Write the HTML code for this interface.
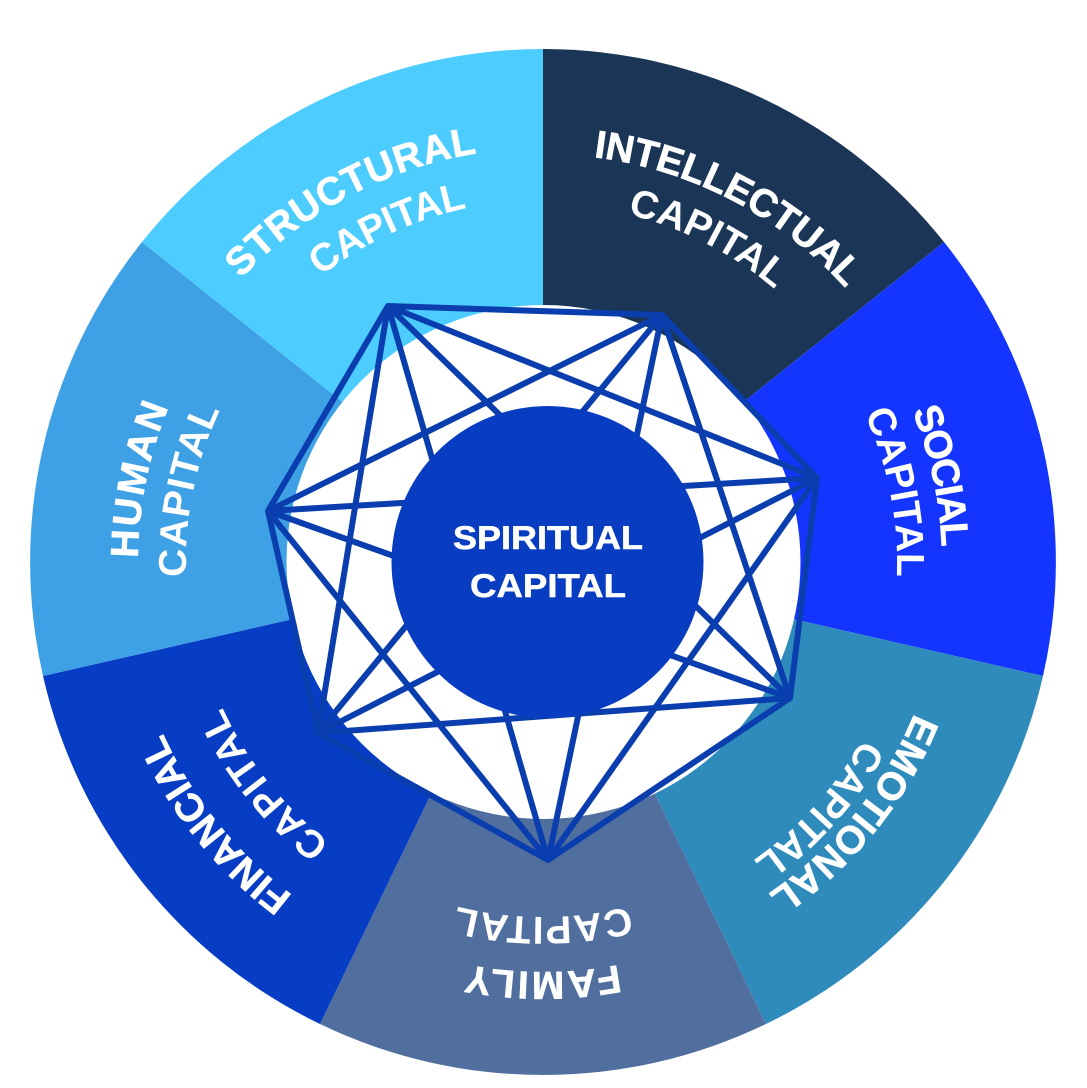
<!DOCTYPE html>
<html><head><meta charset="utf-8"><style>
html,body{margin:0;padding:0;background:#fff}
svg{display:block}
text{font-family:"Liberation Sans",sans-serif;fill:#fff;text-anchor:middle;text-rendering:geometricPrecision}
.a{font-size:39px;font-weight:700;stroke:#fff;stroke-width:.6px}
.b{font-size:39px;font-weight:700}
.c{font-size:33px;font-weight:700;stroke:#fff;stroke-width:.5px}
</style></head><body>
<svg width="1087" height="1088" viewBox="0 0 1087 1088" xmlns="http://www.w3.org/2000/svg">
<defs>
<path id="s1" d="M129 562A414 414 0 0 1 957 562"/>
<path id="s2" d="M181 562A362 362 0 0 1 905 562"/>
<path id="i1" d="M135 562A408 408 0 0 1 951 562"/>
<path id="i2" d="M185 562A358 358 0 0 1 901 562"/>
<path id="o1" d="M144 562A399 399 0 0 1 942 562"/>
<path id="o2" d="M189 562A354 354 0 0 1 897 562"/>
<path id="e1" d="M142 562A401 401 0 0 1 944 562"/>
<path id="e2" d="M178 562A365 365 0 0 1 908 562"/>
<path id="f1" d="M133 562A410 410 0 0 1 953 562"/>
<path id="f2" d="M188 562A355 355 0 0 1 898 562"/>
<path id="n1" d="M126 562A417 417 0 0 1 960 562"/>
<path id="n2" d="M191 562A352 352 0 0 1 895 562"/>
<path id="h1" d="M138 562A405 405 0 0 1 948 562"/>
<path id="h2" d="M186 562A357 357 0 0 1 900 562"/>
</defs>
<path d="M543 562L543 49A513 513 0 0 1 944 242Z" fill="#1b3556"/>
<path d="M543 562L944 242A513 513 0 0 1 1043 676Z" fill="#1435ff"/>
<path d="M543 562L1043 676A513 513 0 0 1 766 1024Z" fill="#2e8bbb"/>
<path d="M543 562L766 1024A513 513 0 0 1 320 1024Z" fill="#516f9e"/>
<path d="M543 562L320 1024A513 513 0 0 1 43 676Z" fill="#073cc4"/>
<path d="M543 562L43 676A513 513 0 0 1 142 242Z" fill="#3ea1e6"/>
<path d="M543 562L142 242A513 513 0 0 1 543 49Z" fill="#4dcdff"/>
<circle cx="543.5" cy="562" r="257" fill="#fff"/>
<g fill="none" stroke="#0a3eae" stroke-width="6" stroke-linejoin="round">
<path d="M388 306L662 315L817 478L790 698L548 860L318 733L268 511Z"/>
<path d="M388 306L817 478M388 306L790 698M388 306L548 860M388 306L318 733"/>
<path d="M662 315L790 698M662 315L548 860M662 315L318 733M662 315L268 511"/>
<path d="M817 478L548 860M817 478L318 733M817 478L268 511"/>
<path d="M790 698L318 733M790 698L268 511"/>
<path d="M548 860L268 511"/>
</g>
<circle cx="547.5" cy="562" r="156" fill="#083dc2"/>
<text class="c" x="548" y="549" textLength="190" lengthAdjust="spacingAndGlyphs">SPIRITUAL</text>
<text class="c" x="548" y="597" textLength="156" lengthAdjust="spacingAndGlyphs">CAPITAL</text>

<text class="a" transform="rotate(332 543 562)"><textPath href="#s1" startOffset="50%" textLength="272">STRUCTURAL</textPath></text>
<text class="b" transform="rotate(335 543 562)"><textPath href="#s2" startOffset="50%" textLength="163">CAPITAL</textPath></text>
<text class="a" transform="rotate(27.5 543 562)"><textPath href="#i1" startOffset="50%" textLength="290">INTELLECTUAL</textPath></text>
<text class="b" transform="rotate(27 543 562)"><textPath href="#i2" startOffset="50%" textLength="167">CAPITAL</textPath></text>
<text class="a" transform="rotate(77.8 543 562)"><textPath href="#o1" startOffset="50%" textLength="140">SOCIAL</textPath></text>
<text class="b" transform="rotate(78.8 543 562)"><textPath href="#o2" startOffset="50%" textLength="168">CAPITAL</textPath></text>
<text class="a" transform="rotate(129 543 562)"><textPath href="#e1" startOffset="50%" textLength="236">EMOTIONAL</textPath></text>
<text class="b" transform="rotate(131.9 543 562)"><textPath href="#e2" startOffset="50%" textLength="165">CAPITAL</textPath></text>
<text class="a" transform="rotate(180 543 562)"><textPath href="#f1" startOffset="50%" textLength="152">FAMILY</textPath></text>
<text class="b" transform="rotate(180 543 562)"><textPath href="#f2" startOffset="50%" textLength="174">CAPITAL</textPath></text>
<text class="a" transform="rotate(231.3 543 562)"><textPath href="#n1" startOffset="50%" textLength="210">FINANCIAL</textPath></text>
<text class="b" transform="rotate(231.4 543 562)"><textPath href="#n2" startOffset="50%" textLength="175">CAPITAL</textPath></text>
<text class="a" transform="rotate(281.5 543 562)"><textPath href="#h1" startOffset="50%" textLength="155">HUMAN</textPath></text>
<text class="b" transform="rotate(281.4 543 562)"><textPath href="#h2" startOffset="50%" textLength="172">CAPITAL</textPath></text>
</svg>
</body></html>
